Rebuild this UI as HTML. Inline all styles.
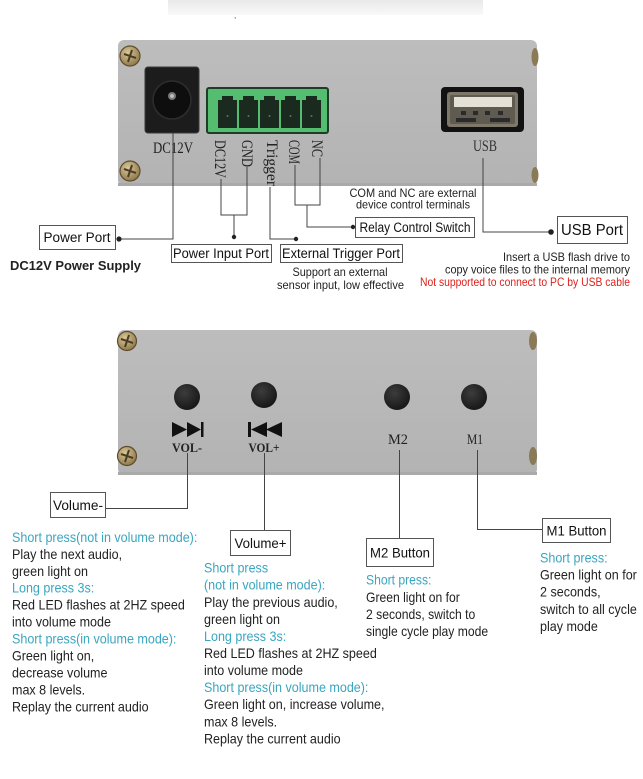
<!DOCTYPE html>
<html><head><meta charset="utf-8">
<style>
html,body{margin:0;padding:0;background:#fff;}
svg{display:block;}
text{font-family:"Liberation Sans",Arial,sans-serif;}
.serif{font-family:"Liberation Serif","Times New Roman",serif;}
</style></head>
<body>
<svg width="643" height="779" viewBox="0 0 643 779" xmlns="http://www.w3.org/2000/svg">
<defs>
<linearGradient id="fade" x1="0" y1="0" x2="0" y2="1">
<stop offset="0" stop-color="#e9e9e9"/><stop offset="1" stop-color="#f9f9f9"/>
</linearGradient>
<linearGradient id="metal" x1="0" y1="0" x2="0" y2="1">
<stop offset="0" stop-color="#bdbdbd"/><stop offset="0.5" stop-color="#b8b8b8"/><stop offset="1" stop-color="#b3b3b3"/>
</linearGradient>
<radialGradient id="screw" cx="0.4" cy="0.35" r="0.7">
<stop offset="0" stop-color="#d9c89a"/><stop offset="1" stop-color="#8a7447"/>
</radialGradient>
<radialGradient id="btn" cx="0.4" cy="0.35" r="0.7">
<stop offset="0" stop-color="#3c3c3c"/><stop offset="1" stop-color="#151515"/>
</radialGradient>
</defs>

<!-- faint top bar -->
<rect x="168" y="0" width="315" height="15" fill="url(#fade)"/>
<text x="234" y="18" font-size="8" fill="#444">,</text>

<!-- ===== TOP PANEL ===== -->
<rect x="118" y="40" width="419" height="146" rx="6" fill="url(#metal)"/>
<rect x="118" y="183" width="419" height="3" fill="#a9a9a9"/>
<!-- screws -->
<g transform="translate(130,56)"><circle r="10" fill="url(#screw)" stroke="#5e4d2c" stroke-width="1.2"/><path d="M-6,-2 L6,2 M-2,6 L2,-6" stroke="#4a3c22" stroke-width="2"/></g>
<g transform="translate(130,171)"><circle r="10" fill="url(#screw)" stroke="#5e4d2c" stroke-width="1.2"/><path d="M-6,-2 L6,2 M-2,6 L2,-6" stroke="#4a3c22" stroke-width="2"/></g>
<ellipse cx="535" cy="57" rx="3.5" ry="9" fill="#8a7a55"/>
<ellipse cx="535" cy="175" rx="3.5" ry="8" fill="#8a7a55"/>

<!-- DC jack -->
<rect x="145" y="67" width="54" height="66" rx="3" fill="#1c1c1c" stroke="#3a3a3a"/>
<circle cx="172" cy="100" r="19" fill="#0e0e0e" stroke="#2e2e2e" stroke-width="1.5"/>
<circle cx="172" cy="96" r="4" fill="#777"/>
<circle cx="172" cy="96" r="2" fill="#bbb"/>
<text class="serif" x="153" y="153" font-size="16" textLength="40" lengthAdjust="spacingAndGlyphs" fill="#222">DC12V</text>

<!-- green terminal -->
<rect x="207" y="88" width="121" height="45" rx="2" fill="#54bd70" stroke="#1d3d26" stroke-width="2"/>
<g fill="#1b2a1f">
<path d="M218,100 h4 v-4 h11 v4 h4 v28 h-19 z"/>
<path d="M239,100 h4 v-4 h11 v4 h4 v28 h-19 z"/>
<path d="M260,100 h4 v-4 h11 v4 h4 v28 h-19 z"/>
<path d="M281,100 h4 v-4 h11 v4 h4 v28 h-19 z"/>
<path d="M302,100 h4 v-4 h11 v4 h4 v28 h-19 z"/>
</g>
<g fill="#6a6a6a"><circle cx="227.5" cy="116" r="1"/><circle cx="248.5" cy="116" r="1"/><circle cx="269.5" cy="116" r="1"/><circle cx="290.5" cy="116" r="1"/><circle cx="311.5" cy="116" r="1"/></g>
<!-- vertical labels -->
<g class="serif" fill="#222" font-size="16">
<text class="serif" transform="translate(215,140) rotate(90)" textLength="38" lengthAdjust="spacingAndGlyphs">DC12V</text>
<text class="serif" transform="translate(242,140) rotate(90)" textLength="27" lengthAdjust="spacingAndGlyphs">GND</text>
<text class="serif" transform="translate(267,140) rotate(90)" textLength="46" lengthAdjust="spacingAndGlyphs">Trigger</text>
<text class="serif" transform="translate(289,140) rotate(90)" textLength="24" lengthAdjust="spacingAndGlyphs">COM</text>
<text class="serif" transform="translate(312,140) rotate(90)" textLength="17" lengthAdjust="spacingAndGlyphs">NC</text>
</g>

<!-- USB -->
<rect x="441" y="87" width="83" height="45" rx="4" fill="#121212"/>
<rect x="447" y="92" width="71" height="35" rx="3" fill="#7d786a"/>
<rect x="450" y="95" width="65" height="29" rx="2" fill="#5f5b50"/>
<rect x="454" y="97" width="58" height="10" fill="#e4e1d6"/>
<g fill="#2a2a2a"><rect x="461" y="111" width="5" height="4"/><rect x="473" y="111" width="5" height="4"/><rect x="485" y="111" width="5" height="4"/><rect x="498" y="111" width="5" height="4"/><rect x="456" y="118" width="20" height="4"/><rect x="490" y="118" width="20" height="4"/></g>
<text class="serif" x="473" y="151" font-size="16" textLength="24" lengthAdjust="spacingAndGlyphs" fill="#333">USB</text>

<!-- ===== TOP CONNECTORS ===== -->
<g stroke="#444" stroke-width="1" fill="none">
<path d="M173,133 V239 H119"/>
<path d="M221,179 V215 H247 V167"/>
<path d="M234,215 V237"/>
<path d="M270,187 V239 H296"/>
<path d="M295,165 V205 H320 V158"/>
<path d="M307,205 V227 H353"/>
<path d="M483,158 V232 H551"/>
</g>
<g fill="#222">
<circle cx="119" cy="239" r="2.6"/>
<circle cx="234" cy="237" r="2.2"/>
<circle cx="296" cy="239" r="2.2"/>
<circle cx="353" cy="227" r="2.2"/>
<circle cx="551" cy="232" r="2.8"/>
</g>
<!-- boxes -->
<g fill="#fff" stroke="#555" stroke-width="1">
<rect x="39.5" y="225.5" width="76" height="24"/>
<rect x="171.5" y="244.5" width="100" height="18"/>
<rect x="280.5" y="244.5" width="122" height="18"/>
<rect x="355.5" y="217.5" width="119" height="20"/>
<rect x="557.5" y="216.5" width="70" height="27"/>
</g>
<g fill="#111" font-size="13.5" text-anchor="middle">
<text x="77" y="242" textLength="67" lengthAdjust="spacingAndGlyphs">Power Port</text>
<text x="221" y="258" textLength="96" lengthAdjust="spacingAndGlyphs">Power Input Port</text>
<text x="341" y="258" textLength="118" lengthAdjust="spacingAndGlyphs">External Trigger Port</text>
<text x="415" y="232" textLength="111" lengthAdjust="spacingAndGlyphs">Relay Control Switch</text>
<text x="592" y="235" font-size="15.5" textLength="62" lengthAdjust="spacingAndGlyphs">USB Port</text>
</g>
<g fill="#222" font-size="12" text-anchor="middle">
<text x="413" y="197" textLength="127" lengthAdjust="spacingAndGlyphs">COM and NC are external</text>
<text x="413" y="208.5" textLength="114" lengthAdjust="spacingAndGlyphs">device control terminals</text>
<text x="340" y="276" textLength="95" lengthAdjust="spacingAndGlyphs">Support an external</text>
<text x="340.5" y="289" textLength="127" lengthAdjust="spacingAndGlyphs">sensor input, low effective</text>
</g>
<g font-size="12" text-anchor="end">
<text x="630" y="261" fill="#222" textLength="127" lengthAdjust="spacingAndGlyphs">Insert a USB flash drive to</text>
<text x="630" y="273.5" fill="#222" textLength="185" lengthAdjust="spacingAndGlyphs">copy voice files to the internal memory</text>
<text x="630" y="286" fill="#e0201c" textLength="210" lengthAdjust="spacingAndGlyphs">Not supported to connect to PC by USB cable</text>
</g>
<text x="10" y="270" font-size="13" font-weight="bold" fill="#222" textLength="131" lengthAdjust="spacingAndGlyphs">DC12V Power Supply</text>

<!-- ===== BOTTOM PANEL ===== -->
<rect x="118" y="330" width="419" height="145" rx="6" fill="url(#metal)"/>
<rect x="118" y="472" width="419" height="3" fill="#a9a9a9"/>
<g transform="translate(127,341)"><circle r="9.5" fill="url(#screw)" stroke="#5e4d2c" stroke-width="1.2"/><path d="M-6,-2 L6,2 M-2,6 L2,-6" stroke="#4a3c22" stroke-width="2"/></g>
<g transform="translate(127,456)"><circle r="9.5" fill="url(#screw)" stroke="#5e4d2c" stroke-width="1.2"/><path d="M-6,-2 L6,2 M-2,6 L2,-6" stroke="#4a3c22" stroke-width="2"/></g>
<ellipse cx="533" cy="341" rx="4" ry="9" fill="#8a7a55"/>
<ellipse cx="533" cy="456" rx="4" ry="9" fill="#8a7a55"/>

<!-- buttons -->
<circle cx="187" cy="397" r="13" fill="url(#btn)"/>
<circle cx="264" cy="395" r="13" fill="url(#btn)"/>
<circle cx="397" cy="397" r="13" fill="url(#btn)"/>
<circle cx="474" cy="397" r="13" fill="url(#btn)"/>
<!-- icons -->
<g fill="#111">
<path d="M172,422 L187,429.5 L172,437 Z"/>
<path d="M187,422 L201,429.5 L187,437 Z"/>
<rect x="201" y="422" width="2.5" height="15"/>
<rect x="248" y="422" width="3" height="15"/>
<path d="M251,429.5 L267,422 L267,437 Z"/>
<path d="M266,429.5 L282,422 L282,437 Z"/>
</g>
<g class="serif" fill="#222" font-weight="bold" font-size="13" text-anchor="middle">
<text class="serif" x="187" y="452" textLength="30" lengthAdjust="spacingAndGlyphs">VOL-</text>
<text class="serif" x="264" y="452" textLength="31" lengthAdjust="spacingAndGlyphs">VOL+</text>
</g>
<g class="serif" fill="#222" font-size="15" text-anchor="middle">
<text class="serif" x="398" y="444" textLength="20" lengthAdjust="spacingAndGlyphs">M2</text>
<text class="serif" x="475" y="444" textLength="16" lengthAdjust="spacingAndGlyphs">M1</text>
</g>

<!-- bottom connectors -->
<g stroke="#444" stroke-width="1" fill="none">
<path d="M187.5,453 V508.5 H105"/>
<path d="M264.5,453 V530"/>
<path d="M399.5,450 V538"/>
<path d="M477.5,450 V529.5 H542"/>
</g>
<g fill="#fff" stroke="#555" stroke-width="1">
<rect x="50.5" y="492.5" width="55" height="25"/>
<rect x="230.5" y="530.5" width="60" height="25"/>
<rect x="366.5" y="538.5" width="67" height="28"/>
<rect x="542.5" y="518.5" width="68" height="24"/>
</g>
<g fill="#111" font-size="14" text-anchor="middle">
<text x="78" y="510" textLength="50" lengthAdjust="spacingAndGlyphs">Volume-</text>
<text x="260.5" y="548" textLength="52" lengthAdjust="spacingAndGlyphs">Volume+</text>
<text x="400" y="557.5" textLength="60" lengthAdjust="spacingAndGlyphs">M2 Button</text>
<text x="576.5" y="535.5" textLength="60" lengthAdjust="spacingAndGlyphs">M1 Button</text>
</g>

<!-- description texts -->
<g font-size="13.5" fill="#222">
<g transform="translate(12,0) scale(0.93,1)">
<text x="0" y="542"><tspan fill="#3aa6c0">Short press(not in volume mode):</tspan></text>
<text x="0" y="559">Play the next audio,</text>
<text x="0" y="576">green light on</text>
<text x="0" y="592.5" fill="#3aa6c0">Long press 3s:</text>
<text x="0" y="609.5">Red LED flashes at 2HZ speed</text>
<text x="0" y="626.5">into volume mode</text>
<text x="0" y="643.5" fill="#3aa6c0">Short press(in volume mode):</text>
<text x="0" y="660.5">Green light on,</text>
<text x="0" y="677.5">decrease volume</text>
<text x="0" y="694.5">max 8 levels.</text>
<text x="0" y="711.5">Replay the current audio</text>
</g>
<g transform="translate(204,0) scale(0.93,1)">
<text x="0" y="572.5" fill="#3aa6c0">Short press</text>
<text x="0" y="589.5" fill="#3aa6c0">(not in volume mode):</text>
<text x="0" y="607">Play the previous audio,</text>
<text x="0" y="624">green light on</text>
<text x="0" y="641" fill="#3aa6c0">Long press 3s:</text>
<text x="0" y="658">Red LED flashes at 2HZ speed</text>
<text x="0" y="675">into volume mode</text>
<text x="0" y="692" fill="#3aa6c0">Short press(in volume mode):</text>
<text x="0" y="709">Green light on, increase volume,</text>
<text x="0" y="726.5">max 8 levels.</text>
<text x="0" y="743.5">Replay the current audio</text>
</g>
<g transform="translate(366,0) scale(0.9,1)">
<text x="0" y="584.5" fill="#3aa6c0">Short press:</text>
<text x="0" y="602">Green light on for</text>
<text x="0" y="619">2 seconds, switch to</text>
<text x="0" y="636">single cycle play mode</text>
</g>
<g transform="translate(540,0) scale(0.93,1)">
<text x="0" y="562.5" fill="#3aa6c0">Short press:</text>
<text x="0" y="579.5">Green light on for</text>
<text x="0" y="596.5">2 seconds,</text>
<text x="0" y="614">switch to all cycle</text>
<text x="0" y="631">play mode</text>
</g>
</g>
</svg>
</body></html>
